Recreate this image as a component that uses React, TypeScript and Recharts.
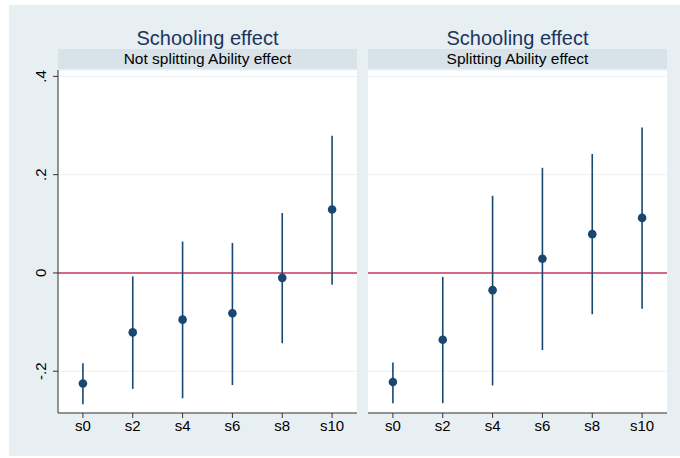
import React from "react";
import {
  ScatterChart,
  Scatter,
  ErrorBar,
  XAxis,
  YAxis,
  CartesianGrid,
  ReferenceLine,
} from "recharts";

const categories = ["s0", "s2", "s4", "s6", "s8", "s10"];

// Not splitting Ability effect
const estNoSplit = [-0.225, -0.121, -0.095, -0.082, -0.01, 0.129];
const lowNoSplit = [-0.267, -0.236, -0.255, -0.228, -0.143, -0.024];
const highNoSplit = [-0.184, -0.007, 0.064, 0.061, 0.122, 0.279];

// Splitting Ability effect
const estSplit = [-0.222, -0.136, -0.035, 0.029, 0.079, 0.112];
const lowSplit = [-0.265, -0.265, -0.229, -0.157, -0.084, -0.073];
const highSplit = [-0.182, -0.008, 0.157, 0.214, 0.242, 0.296];

const yTicks = [-0.2, 0, 0.2, 0.4];

const NAVY = "#1a476f";
const FONT = "'Liberation Sans', Arial, sans-serif";

function buildRows(est: number[], low: number[], high: number[]) {
  return categories.map((c, i) => ({
    cat: c,
    est: est[i],
    err: [est[i] - low[i], high[i] - est[i]],
  }));
}

const fmtY = (v: number) => (v === 0 ? "0" : v.toFixed(1).replace("0.", "."));

function YTick({ x, y, payload }: any) {
  const cx = x - 12;
  return (
    <text
      x={cx}
      y={y}
      transform={`rotate(-90 ${cx} ${y})`}
      textAnchor="middle"
      dominantBaseline="central"
      fontSize={15}
      fontFamily={FONT}
      fill="#000"
    >
      {fmtY(payload.value)}
    </text>
  );
}

interface PanelProps {
  left: number;
  width: number;
  margin: { top: number; right: number; bottom: number; left: number };
  showY: boolean;
  subtitle: string;
  rows: { cat: string; est: number; err: number[] }[];
}

function Panel({ left, width, margin, showY, subtitle, rows }: PanelProps) {
  const plotLeft = left + margin.left + (showY ? 40 : 0);
  const plotWidth = width - margin.left - margin.right - (showY ? 40 : 0);
  return (
    <>
      <div style={{ ...titleStyle, left: plotLeft, width: plotWidth }}>
        Schooling effect
      </div>
      <div style={{ ...stripStyle, left: plotLeft, width: plotWidth }}>
        {subtitle}
      </div>
      <div style={{ position: "absolute", left, top: 0 }}>
        <ScatterChart width={width} height={458} margin={margin}>
          <CartesianGrid
            vertical={false}
            stroke="#e9f0f3"
            fill="#ffffff"
          />
          <XAxis
            dataKey="cat"
            type="category"
            allowDuplicatedCategory={false}
            height={30}
            tickSize={5}
            stroke="#333"
            tick={{ fill: "#000", fontSize: 15, fontFamily: FONT }}
          />
          <YAxis
            dataKey="est"
            type="number"
            domain={[-0.285, 0.413]}
            ticks={yTicks}
            allowDataOverflow
            hide={!showY}
            width={40}
            tickSize={5}
            tickMargin={0}
            stroke="#333"
            tick={<YTick />}
          />
          <ReferenceLine y={0} stroke="#c93a60" strokeWidth={1.6} />
          <Scatter
            data={rows}
            fill={NAVY}
            isAnimationActive={false}
            shape={(p: any) => (
              <circle cx={p.cx} cy={p.cy} r={4.3} fill={NAVY} />
            )}
          >
            <ErrorBar
              dataKey="err"
              direction="y"
              width={0}
              stroke={NAVY}
              strokeWidth={1.6}
              isAnimationActive={false}
            />
          </Scatter>
        </ScatterChart>
      </div>
    </>
  );
}

export default function App() {
  return (
    <div style={pageStyle}>
      <div style={bgStyle} />
      <Panel
        left={0}
        width={362}
        margin={{ top: 70, right: 5, bottom: 15, left: 18 }}
        showY
        subtitle="Not splitting Ability effect"
        rows={buildRows(estNoSplit, lowNoSplit, highNoSplit)}
      />
      <Panel
        left={362}
        width={318}
        margin={{ top: 70, right: 13, bottom: 15, left: 6 }}
        showY={false}
        subtitle="Splitting Ability effect"
        rows={buildRows(estSplit, lowSplit, highSplit)}
      />
    </div>
  );
}

const pageStyle: React.CSSProperties = {
  position: "absolute",
  left: 0,
  top: 0,
  width: 680,
  height: 458,
  background: "#fff",
  fontFamily: FONT,
};

const bgStyle: React.CSSProperties = {
  position: "absolute",
  left: 9,
  top: 5,
  width: 671,
  height: 451,
  background: "#e8eff2",
};

const titleStyle: React.CSSProperties = {
  position: "absolute",
  top: 26,
  height: 24,
  lineHeight: "24px",
  textAlign: "center",
  fontSize: 20,
  color: "#1c3560",
};

const stripStyle: React.CSSProperties = {
  position: "absolute",
  top: 49,
  height: 20,
  lineHeight: "20px",
  textAlign: "center",
  fontSize: 15.5,
  color: "#000",
  background: "#d8e3e9",
};
